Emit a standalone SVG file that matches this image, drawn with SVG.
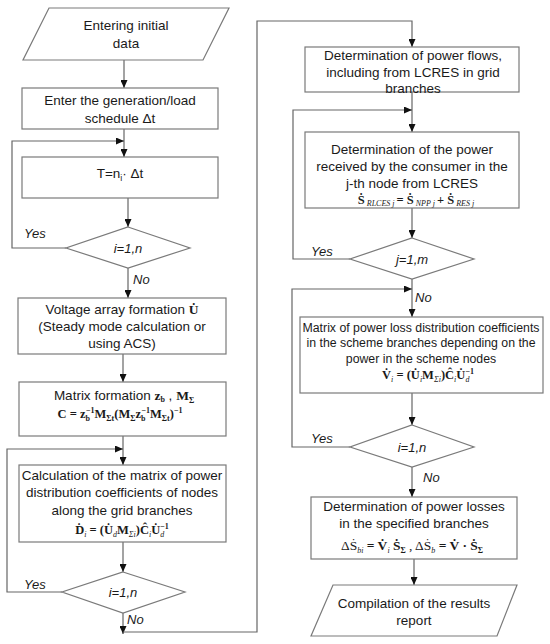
<svg xmlns="http://www.w3.org/2000/svg" width="550" height="644" viewBox="0 0 550 644">
<style>
.bx{fill:#fff;stroke:#7a7a7a;stroke-width:1.2}
.cn{fill:none;stroke:#666;stroke-width:1.2}
.t{font-family:"Liberation Sans",Arial,sans-serif;font-size:13.5px;fill:#1a1a1a;text-anchor:middle}
.a{font-family:"Liberation Sans",Arial,sans-serif;font-size:12.3px;fill:#1a1a1a;text-anchor:middle}
.yn{font-family:"Liberation Sans",Arial,sans-serif;font-size:13px;font-style:italic;fill:#1a1a1a}
.f{font-family:"Liberation Serif","Times New Roman",serif;font-size:12.5px;font-weight:bold;fill:#1a1a1a;text-anchor:middle}
.s{font-size:8px;font-style:italic;font-weight:normal}
.sb{font-size:8px;font-weight:bold}
.n{font-weight:normal}
</style>
<defs>
<marker id="ar" markerUnits="userSpaceOnUse" markerWidth="8" markerHeight="7" refX="8" refY="3.5" orient="auto">
<path d="M0,0 L8,3.5 L0,7 z" fill="#111"/>
</marker>
</defs>

<g id="connectors">
<path class="cn" d="M124,60 V88" marker-end="url(#ar)"/>
<path class="cn" d="M124,129 V157" marker-end="url(#ar)"/>
<path class="cn" d="M66,248 H12 V141 H124" marker-end="url(#ar)"/>
<path class="cn" d="M128,198 V227" marker-end="url(#ar)"/>
<path class="cn" d="M128,268 V298" marker-end="url(#ar)"/>
<path class="cn" d="M123,354 V382" marker-end="url(#ar)"/>
<path class="cn" d="M123,436 V465" marker-end="url(#ar)"/>
<path class="cn" d="M62,592 H7 V449 H123" marker-end="url(#ar)"/>
<path class="cn" d="M123,542 V572" marker-end="url(#ar)"/>
<path class="cn" d="M123,613 V634" marker-end="url(#ar)"/>
<path class="cn" d="M123,632 H257 V21 H412 V47" marker-end="url(#ar)"/>
<path class="cn" d="M412,92 V132" marker-end="url(#ar)"/>
<path class="cn" d="M350,259 H293 V110 H412" marker-end="url(#ar)"/>
<path class="cn" d="M412,208 V238" marker-end="url(#ar)"/>
<path class="cn" d="M412,279 V317" marker-end="url(#ar)"/>
<path class="cn" d="M350,447 H292 V289 H412" marker-end="url(#ar)"/>
<path class="cn" d="M412,393 V425" marker-end="url(#ar)"/>
<path class="cn" d="M412,467 V497" marker-end="url(#ar)"/>
<path class="cn" d="M414,559 V585" marker-end="url(#ar)"/>
<text class="yn" x="24" y="238">Yes</text>
<text class="yn" x="133" y="284">No</text>
<text class="yn" x="24" y="589">Yes</text>
<text class="yn" x="127" y="624">No</text>
<text class="yn" x="311" y="256">Yes</text>
<text class="yn" x="415" y="302">No</text>
<text class="yn" x="311" y="443">Yes</text>
<text class="yn" x="423" y="482">No</text>
</g>

<g id="start">
<polygon class="bx" points="49,8 229,8 203,60 23,60"/>
<text class="t" x="126" y="30">Entering initial</text>
<text class="t" x="126" y="48">data</text>
</g>

<g id="schedule">
<rect class="bx" x="22" y="88" width="196" height="41"/>
<text class="t" x="120" y="105">Enter the generation/load</text>
<text class="t" x="120" y="123">schedule Δt</text>
</g>

<g id="time">
<rect class="bx" x="22" y="157" width="196" height="41"/>
<text class="t" x="120" y="178">T=n<tspan font-size="9" dy="3">i</tspan><tspan dy="-3">· Δt</tspan></text>
</g>

<g id="loop1">
<polygon class="bx" points="128,227 190,248 128,268 66,248"/>
<text class="yn" x="128" y="253" text-anchor="middle">i=1,n</text>
</g>

<g id="voltage">
<rect class="bx" x="18" y="298" width="208" height="56"/>
<text class="t" x="122" y="314">Voltage array formation <tspan font-family="Liberation Serif,serif" font-weight="bold">U&#x307;</tspan></text>
<text class="t" x="122" y="331">(Steady mode calculation or</text>
<text class="t" x="122" y="348">using ACS)</text>
</g>

<g id="matrix">
<rect class="bx" x="19" y="382" width="207" height="54"/>
<text class="t" x="124" y="400">Matrix formation <tspan font-family="Liberation Serif,serif" font-weight="bold">z<tspan font-size="8" dy="2">b</tspan></tspan><tspan dy="-2"> ,  </tspan><tspan font-family="Liberation Serif,serif" font-weight="bold">M<tspan font-size="8" dy="3">Σ</tspan></tspan></text>
<text class="f" x="120" y="418">C = z<tspan class="sb" dy="3">b</tspan><tspan class="sb" dx="-4" dy="-8">−1</tspan><tspan dy="5">M</tspan><tspan class="sb" dy="3">Σt</tspan><tspan dy="-3">(M</tspan><tspan class="sb" dy="3">Σ</tspan><tspan dy="-3">z</tspan><tspan class="sb" dy="3">b</tspan><tspan class="sb" dx="-4" dy="-8">−1</tspan><tspan dy="5">M</tspan><tspan class="sb" dy="3">Σt</tspan><tspan dy="-3">)</tspan><tspan class="sb" dy="-5">−1</tspan></text>
</g>

<g id="distribution">
<rect class="bx" x="19" y="465" width="207" height="77"/>
<text class="t" x="122" y="480">Calculation of the matrix of power</text>
<text class="t" x="122" y="497">distribution coefficients of nodes</text>
<text class="t" x="122" y="515">along the grid branches</text>
<text class="f" x="122" y="534">Ḋ<tspan class="s" dy="3">i</tspan><tspan dy="-3"> = (U&#x307;</tspan><tspan class="s" dy="3">d</tspan><tspan dy="-3">M</tspan><tspan class="s" dy="3">Σi</tspan><tspan dy="-3">)Ĉ</tspan><tspan class="s" dy="3">i</tspan><tspan dy="-3">U&#x307;</tspan><tspan class="s" dy="3">d</tspan><tspan class="sb" dx="-4" dy="-8">−1</tspan></text>
</g>

<g id="loop2">
<polygon class="bx" points="123,572 185,592 123,613 62,592"/>
<text class="yn" x="123" y="597" text-anchor="middle">i=1,n</text>
</g>

<g id="flows">
<rect class="bx" x="305" y="47" width="214" height="45"/>
<text class="t" x="413" y="60">Determination of power flows,</text>
<text class="t" x="413" y="77">including from LCRES in grid</text>
<text class="t" x="413" y="93">branches</text>
</g>

<g id="consumer">
<rect class="bx" x="305" y="132" width="214" height="76"/>
<text class="t" x="412" y="154">Determination of the power</text>
<text class="t" x="412" y="171">received by the consumer in the</text>
<text class="t" x="412" y="188">j-th node from LCRES</text>
<text class="f" x="416" y="204">Ṡ<tspan class="s" dy="2"> RLCES j </tspan><tspan dy="-2">= Ṡ</tspan><tspan class="s" dy="2"> NPP j </tspan><tspan dy="-2">+ Ṡ</tspan><tspan class="s" dy="2"> RES j</tspan></text>
</g>

<g id="loop3">
<polygon class="bx" points="412,238 474,259 412,279 350,259"/>
<text class="yn" x="412" y="264" text-anchor="middle">j=1,m</text>
</g>

<g id="losscoef">
<rect class="bx" x="300" y="317" width="243" height="76"/>
<text class="a" x="421" y="332">Matrix of power loss distribution coefficients</text>
<text class="a" x="421" y="347">in the scheme branches depending on the</text>
<text class="a" x="421" y="363">power in the scheme nodes</text>
<text class="f" x="428" y="379">V&#x307;<tspan class="s" dy="3">i</tspan><tspan dy="-3"> = (U&#x307;</tspan><tspan class="s" dy="3">i</tspan><tspan dy="-3">M</tspan><tspan class="s" dy="3">Σi</tspan><tspan dy="-3">)Ĉ</tspan><tspan class="s" dy="3">i</tspan><tspan dy="-3">U&#x307;</tspan><tspan class="s" dy="3">d</tspan><tspan class="sb" dx="-4" dy="-8">−1</tspan></text>
</g>

<g id="loop4">
<polygon class="bx" points="412,425 474,447 412,467 350,447"/>
<text class="yn" x="412" y="452" text-anchor="middle">i=1,n</text>
</g>

<g id="losses">
<rect class="bx" x="311" y="497" width="206" height="62"/>
<text class="t" x="414" y="511">Determination of power losses</text>
<text class="t" x="414" y="528">in the specified branches</text>
<text class="f" x="412" y="550" style="font-size:13.5px"><tspan class="n">ΔṠ</tspan><tspan class="s" dy="3">bi</tspan><tspan dy="-3"> = V&#x307;</tspan><tspan class="s" dy="3">i</tspan><tspan dy="-3"> Ṡ</tspan><tspan class="sb" dy="3">Σ</tspan><tspan class="n" dy="-3"> ,   ΔṠ</tspan><tspan class="s" dy="3">b</tspan><tspan dy="-3"> = V&#x307; · Ṡ</tspan><tspan class="sb" dy="3">Σ</tspan></text>
</g>

<g id="report">
<polygon class="bx" points="333,585 517,585 497,636 311,636"/>
<text class="t" x="414" y="608">Compilation of the results</text>
<text class="t" x="414" y="625">report</text>
</g>
</svg>
